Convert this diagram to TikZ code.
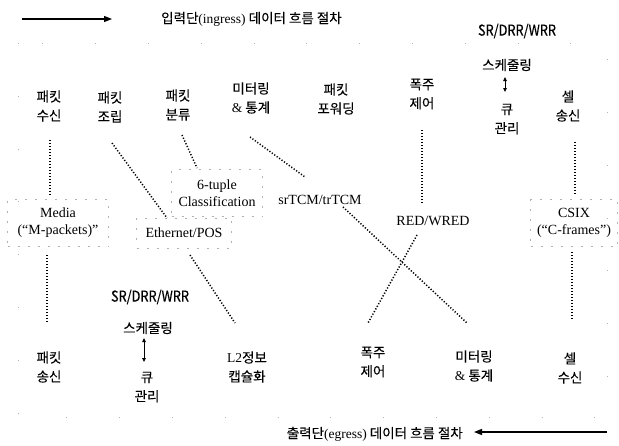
\documentclass[tikz,border=0pt]{standalone}
\usepackage{fontspec}
\setmainfont{Liberation Serif}
\newfontfamily\kr[FakeBold=0.15]{Noto Sans CJK KR}
\newfontfamily\krlat[FakeStretch=0.85,FakeBold=0.4]{Noto Sans CJK KR}
\usetikzlibrary{arrows.meta,calc}

\begin{document}
\begin{tikzpicture}[x=1pt, y=-1pt,
    lbl/.style={align=center, inner sep=1pt, font=\kr\fontsize{13.5}{19}\selectfont},
    tag/.style={align=center, inner sep=1pt, font=\fontsize{14}{17}\selectfont},
    algo/.style={inner sep=1pt, font=\krlat\fontsize{15}{17}\selectfont},
    box/.style={draw=gray!60, dash pattern=on 2pt off 8pt, line width=0.6pt, align=center, inner sep=0pt, font=\fontsize{14}{17}\selectfont},
    link/.style={line width=1.5pt, dash pattern=on 1.2pt off 1.8pt},
    flow/.style={-{Triangle[length=8pt,width=6pt]}, line width=1.3pt},
    dbl/.style={{Triangle[length=4pt,width=3.5pt]}-{Triangle[length=4pt,width=3.5pt]}, line width=0.8pt},
    outerframe/.style={draw=gray!60, dash pattern=on 0.8pt off 52pt}
]
\useasboundingbox (0,0) rectangle (619,445);
\draw[outerframe] (18,43) rectangle (607,417);

% ingress direction
\coordinate (in_start) at (22,19);
\coordinate (in_end) at (112,19);
\node[lbl, anchor=west] (in_txt) at (160,19) {입력단{\rmfamily(ingress)} 데이터 흐름 절차};
\draw[flow] (in_start) -- (in_end);

% ingress stages
\node[lbl] (in_recv) at (49,106) {패킷\\수신};
\node[lbl] (in_asm) at (110,107) {패킷\\조립};
\node[lbl] (in_cls) at (178,105) {패킷\\분류};
\node[lbl] (in_meter) at (251,98) {미터링\\{\rmfamily\&} 통계};
\node[lbl] (in_fwd) at (336,99) {패킷\\포워딩};
\node[lbl] (in_cong) at (422,94) {폭주\\제어};
\node[lbl] (in_tx) at (568,106) {셀\\송신};
\node[algo] (in_alg) at (517,31) {SR/DRR/WRR};
\node[lbl] (in_sched) at (507,65) {스케줄링};
\node[lbl] (in_queue) at (507,119) {큐\\관리};
\draw[dbl] ($(in_sched)+(-2,12)$) -- ($(in_queue)+(-2,-27)$);

% formats and algorithms
\node[box, minimum width=101pt, minimum height=47pt] (media) at (58,223) {Media\\(“M-packets)”};
\node[box, minimum width=95pt, minimum height=30pt] (ether) at (184,233) {Ethernet/POS};
\node[box, minimum width=91pt, minimum height=47pt] (tuple) at (217,193) {6-tuple\\Classification};
\node[tag] (srtcm) at (320,200) {srTCM/trTCM};
\node[tag] (red) at (433,221) {RED/WRED};
\node[box, minimum width=87pt, minimum height=47pt] (csix) at (574,223) {CSIX\\(“C-frames”)};

% egress stages
\node[algo] (eg_alg) at (150,297) {SR/DRR/WRR};
\node[lbl] (eg_sched) at (148,328) {스케줄링};
\node[lbl] (eg_queue) at (147,387) {큐\\관리};
\draw[dbl] ($(eg_sched)+(-4,10)$) -- ($(eg_queue)+(-3,-25)$);
\node[lbl] (eg_tx) at (49,367) {패킷\\송신};
\node[lbl] (eg_l2) at (247,367) {{\rmfamily L2}정보\\캡슐화};
\node[lbl] (eg_cong) at (373,362) {폭주\\제어};
\node[lbl] (eg_meter) at (474,366) {미터링\\{\rmfamily\&} 통계};
\node[lbl] (eg_rx) at (570,368) {셀\\수신};

% egress direction
\coordinate (eg_start) at (607,432);
\coordinate (eg_end) at (474,432);
\node[lbl, anchor=east] (eg_txt) at (464,434) {출력단{\rmfamily(egress)} 데이터 흐름 절차};
\draw[flow] (eg_start) -- (eg_end);

% dotted links
\draw[link] ($(in_recv)+(1,34)$) -- ($(media)+(-8,-28)$);
\draw[link] ($(in_asm)+(2,36)$) -- ($(ether)+(-17,-15)$);
\draw[link] ($(in_cls)+(4,30)$) -- ($(tuple)+(-20,-25)$);
\draw[link] ($(in_meter)+(-1,39)$) -- ($(srtcm)+(-15,-23)$);
\draw[link] ($(in_cong)+(0,36)$) -- ($(red)+(-11,-18)$);
\draw[link] ($(in_tx)+(7,36)$) -- ($(csix)+(1,-28)$);
\draw[link] ($(media)+(-11,32)$) -- ($(eg_tx)+(-2,-45)$);
\draw[link] ($(ether)+(6,22)$) -- ($(eg_l2)+(-12,-44)$);
\draw[link] ($(srtcm)+(23,7)$) -- ($(eg_meter)+(-7,-43)$);
\draw[link] ($(red)+(-16,14)$) -- ($(eg_cong)+(-5,-39)$);
\draw[link] ($(csix)+(-2,29)$) -- ($(eg_rx)+(2,-48)$);
\end{tikzpicture}
\end{document}
